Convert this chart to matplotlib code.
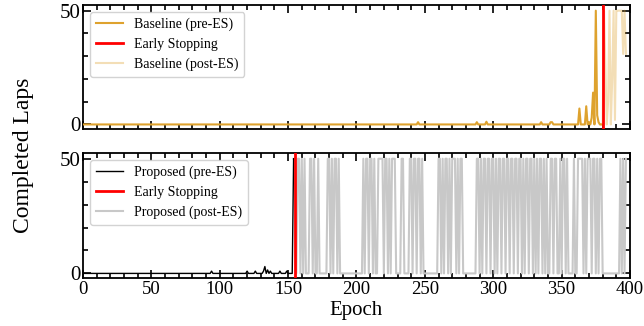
"""Completed laps per epoch: baseline vs proposed, with early-stopping marks."""

from __future__ import annotations

import matplotlib

matplotlib.use("Agg")
import matplotlib.pyplot as plt
import numpy as np

plt.rcParams["font.family"] = ["Liberation Serif", "DejaVu Serif"]
plt.rcParams["mathtext.fontset"] = "stix"

N_EPOCHS = 398

# Baseline: mostly zero before early stopping (ES at epoch 380)
BASELINE_ES = 380
baseline_spike_epochs = [245, 288, 295, 335, 342, 343, 363, 368, 370, 372, 373, 375, 376, 377]
baseline_spike_laps = [1, 1, 1.2, 1, 1, 1, 7, 8, 1, 3, 14, 50, 4, 1]
# post-ES, one value per epoch from 380 to 397
baseline_post_laps = [0, 50, 25, 0, 10, 50, 0, 20, 50, 2, 50, 50, 50, 50, 50, 31, 50, 31]

# Proposed: early stopping at epoch 155
PROPOSED_ES = 155
proposed_spike_epochs = [94, 120, 126, 132, 133, 135, 137, 144, 149, 154]
proposed_spike_laps = [1, 1, 1, 1, 3, 1.5, 1, 1, 1, 50]
# post-ES runs (start, end) where laps hit the 50 cap; everything else is 0
proposed_high_runs = [
    (155, 155), (157, 158), (160, 160), (162, 162), (166, 167), (169, 169),
    (172, 172), (179, 180), (182, 182), (184, 185), (187, 187), (205, 205),
    (207, 208), (210, 211), (213, 213), (216, 219), (221, 222), (224, 224),
    (226, 228), (233, 234), (239, 240), (242, 243), (245, 246), (248, 248),
    (260, 261), (263, 263), (265, 266), (268, 268), (270, 272), (274, 274),
    (276, 277), (288, 289), (291, 291), (293, 294), (296, 297), (299, 300),
    (302, 302), (304, 305), (307, 308), (310, 311), (313, 314), (316, 317),
    (319, 320), (322, 322), (324, 325), (327, 328), (330, 330), (332, 332),
    (334, 335), (337, 337), (339, 339), (342, 343), (345, 346), (349, 349),
    (351, 352), (354, 354), (359, 359), (362, 365), (367, 367), (369, 371),
    (373, 374), (376, 376), (378, 379), (393, 393), (395, 395), (397, 397),
]

BASELINE_COLOR = "#dea22e"
PROPOSED_COLOR = "black"
POST_GRAY = "#c8c8c8"
ES_COLOR = "#ff0000"


def build_baseline() -> np.ndarray:
    laps = np.zeros(N_EPOCHS)
    laps[baseline_spike_epochs] = baseline_spike_laps
    laps[BASELINE_ES:BASELINE_ES + len(baseline_post_laps)] = baseline_post_laps
    return laps


def build_proposed() -> np.ndarray:
    laps = np.zeros(N_EPOCHS)
    laps[proposed_spike_epochs] = proposed_spike_laps
    for start, end in proposed_high_runs:
        laps[start:end + 1] = 50
    return laps


def style_axis(ax) -> None:
    ax.set_xlim(0, 400)
    ax.set_ylim(-2, 52.5)
    ax.set_xticks(np.arange(0, 401, 50))
    ax.set_xticks(np.arange(0, 401, 10), minor=True)
    ax.set_yticks([0, 50])
    ax.set_yticks(np.arange(0, 51, 10), minor=True)
    ax.tick_params(which="both", direction="in", top=True, right=True,
                   width=1.2, pad=2)
    ax.tick_params(axis="x", labelsize=13.5)
    ax.tick_params(axis="y", labelsize=15)
    ax.tick_params(which="major", length=6)
    ax.tick_params(which="minor", length=3.5)
    for sp in ax.spines.values():
        sp.set_linewidth(1.3)


def panel(ax, laps, es, pre_color, post_color, post_alpha, pre_lw, post_lw, name):
    epochs = np.arange(N_EPOCHS)
    ax.plot(epochs[:es], laps[:es], color=pre_color, lw=pre_lw,
            label=f"{name} (pre-ES)", zorder=3)
    ax.axvline(es, color=ES_COLOR, lw=2, label="Early Stopping", zorder=4)
    ax.plot(epochs[es - 1:], laps[es - 1:], color=post_color, lw=post_lw,
            alpha=post_alpha, label=f"{name} (post-ES)", zorder=2)
    ax.legend(loc="upper left", fontsize=10, framealpha=0.85,
              borderaxespad=0.5, handlelength=2.0)
    style_axis(ax)


def main() -> None:
    fig = plt.figure(figsize=(6.44, 3.26), dpi=100)
    ax_top = fig.add_axes([83 / 644, 1 - 129 / 326, 547 / 644, 124 / 326])
    ax_bot = fig.add_axes([83 / 644, 1 - 278 / 326, 547 / 644, 125 / 326])

    panel(ax_top, build_baseline(), BASELINE_ES, BASELINE_COLOR, BASELINE_COLOR,
          0.35, 1.5, 1.5, "Baseline")
    ax_top.tick_params(labelbottom=False)

    panel(ax_bot, build_proposed(), PROPOSED_ES, PROPOSED_COLOR, POST_GRAY,
          1.0, 1.0, 1.5, "Proposed")
    ax_bot.set_xlabel("Epoch", fontsize=15, labelpad=2)

    fig.text(0.036, 0.525, "Completed Laps", rotation=90, fontsize=17,
             ha="center", va="center")

    fig.savefig("out.png", dpi=100)
    plt.close(fig)


if __name__ == "__main__":
    main()
